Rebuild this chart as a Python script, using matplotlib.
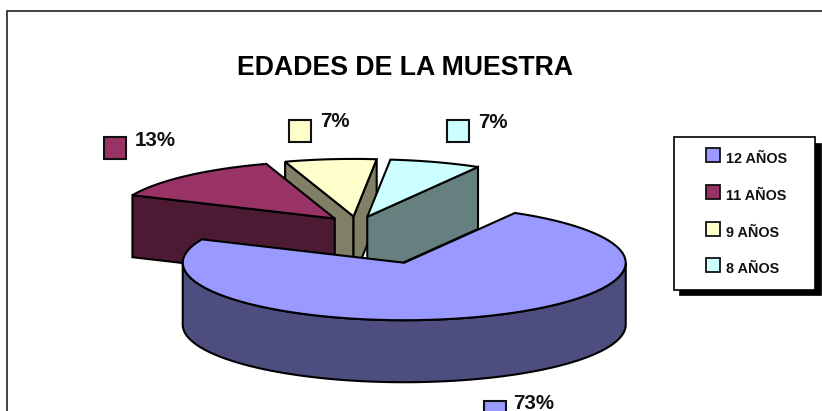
import numpy as np
import matplotlib
matplotlib.use("Agg")
import matplotlib.pyplot as plt
from matplotlib.patches import Polygon, Rectangle

categories = ["12 AÑOS", "11 AÑOS", "9 AÑOS", "8 AÑOS"]
counts = [11, 2, 1, 1]
explode = [0.69, 0.15, 0.15, 0.15]
top_colors = ["#9999FF", "#993366", "#FFFFCC", "#CCFFFF"]
side_colors = ["#4D4D80", "#4D1A33", "#808066", "#668080"]
draw_order = [2, 3, 1, 0]

# pie shape, in pixels of the 822x411 picture
cx, cy = 357, 225
rx, ry = 221.5, 57.5
depth = 62
first_angle = 60
line = 1.5

plt.rcParams["font.family"] = ["Liberation Sans", "DejaVu Sans"]

fig = plt.figure(figsize=(8.22, 4.11), dpi=100)
ax = fig.add_axes([0, 0, 1, 1])
ax.set_xlim(0, 822)
ax.set_ylim(411, 0)
ax.axis("off")


def rim(x0, y0, a, b):
    t = np.radians(np.linspace(a, b, 80))
    return np.column_stack([x0 + rx * np.cos(t), y0 - ry * np.sin(t)])


def face(points, color, z):
    ax.add_patch(Polygon(points, closed=True, facecolor=color, edgecolor="black",
                         linewidth=line, joinstyle="miter", zorder=z))


def drop(points):
    return points + np.array([0, depth])


# outer frame, runs off the picture on the right and bottom
ax.add_patch(Rectangle((7, 11), 840, 420, facecolor="white", edgecolor="#222222", linewidth=1.2, zorder=0))

total = sum(counts)
spans = [360 * c / total for c in counts]

# slices run clockwise from first_angle
start = first_angle
slices = []
for i in range(len(counts)):
    slices.append((i, start, start - spans[i]))
    start -= spans[i]

for z, i in enumerate(draw_order):
    _, a_start, a_end = slices[i]
    mid = np.radians((a_start + a_end) / 2)
    x0 = cx + explode[i] * rx * np.cos(mid)
    y0 = cy - explode[i] * ry * np.sin(mid)
    apex = np.array([[x0, y0]])
    z += 2

    # cut faces, only the ones turned towards the viewer
    for edge, normal in ((a_start, a_start + 90), (a_end, a_end - 90)):
        if np.sin(np.radians(normal)) < 0:
            tip = rim(x0, y0, edge, edge)[:1]
            wall = np.vstack([apex, tip, drop(tip), drop(apex)])
            face(wall, side_colors[i], z)

    # outer wall, front half of the ellipse only
    for k in (-360, 0, 360):
        lo = max(a_end + k, -180)
        hi = min(a_start + k, 0)
        if hi > lo:
            edge = rim(x0, y0, lo, hi)
            face(np.vstack([edge, drop(edge)[::-1]]), side_colors[i], z)

    face(np.vstack([apex, rim(x0, y0, a_start, a_end)]), top_colors[i], z)

ax.text(405, 68, "EDADES DE LA MUESTRA", fontsize=19.2, fontweight="bold",
        ha="center", va="center", color="black", zorder=10)

# data labels with their colour keys
key_x = [484, 104, 289, 447]
key_y = [401, 137, 120, 120]
label_dx = [29, 31, 31, 31]
label_dy = [2, 3, 1, 2]
for i in range(len(counts)):
    ax.add_patch(Rectangle((key_x[i], key_y[i]), 22, 22, facecolor=top_colors[i],
                           edgecolor="#111111", linewidth=1.5, zorder=10))
    ax.text(key_x[i] + label_dx[i], key_y[i] + label_dy[i], f"{counts[i] / total:.0%}",
            fontsize=14.8, fontweight="bold", ha="left", va="center", color="#111111", zorder=10)

# legend box with hard shadow
ax.add_patch(Rectangle((679, 143), 142, 152, facecolor="black", edgecolor="black", linewidth=0.5, zorder=11))
ax.add_patch(Rectangle((674, 137), 141, 153, facecolor="white", edgecolor="black", linewidth=1.2, zorder=12))
legend_y = [148, 185, 221.5, 258]
for i in range(len(categories)):
    ax.add_patch(Rectangle((706, legend_y[i]), 14, 14, facecolor=top_colors[i],
                           edgecolor="#111111", linewidth=1.3, zorder=13))
    ax.text(726, legend_y[i] + 11, categories[i], fontsize=10.4, fontweight="bold",
            ha="left", va="center", color="#111111", zorder=13)

fig.savefig("out.png", dpi=100)
